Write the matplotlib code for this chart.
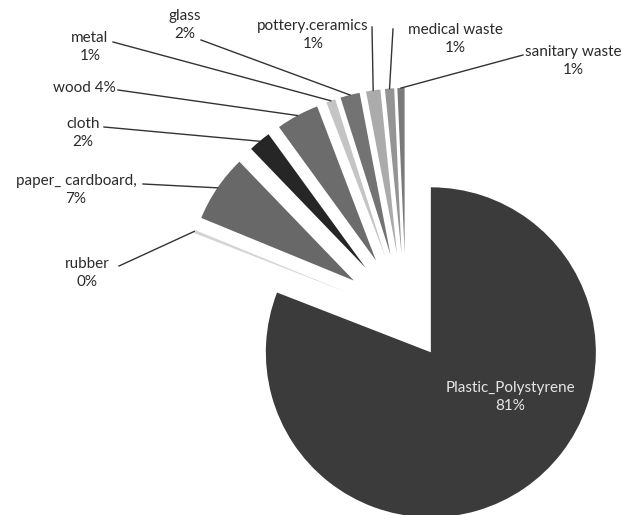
import numpy as np
import matplotlib
matplotlib.use("Agg")
from matplotlib import pyplot as plt

# data, clockwise from 12 o'clock
categories = ['Plastic_Polystyrene', 'rubber', 'paper_ cardboard,', 'cloth', 'wood',
              'metal', 'glass', 'pottery.ceramics', 'medical waste', 'sanitary waste']
shares = [80.9, 0.3, 6.6, 2.2, 4.2, 0.9, 1.9, 1.4, 0.9, 0.7]
pct_labels = ['81%', '0%', '7%', '2%', '4%', '1%', '2%', '1%', '1%', '1%']

colors = ['#3b3b3b', '#d4d4d4', '#686868', '#262626', '#6c6c6c',
          '#c4c4c4', '#737373', '#ababab', '#949494', '#7a7a7a']

W, H = 621, 515
R = 165
CX, CY = 406, H - 316
explode = [44] + [63] * 9

plt.rcParams['font.family'] = ['Lato', 'DejaVu Sans']

fig = plt.figure(figsize=(W / 100, H / 100), dpi=100)
ax = fig.add_axes([0, 0, 1, 1])
wedges, _ = ax.pie(shares, colors=colors, startangle=90, counterclock=False,
                   explode=explode, radius=R, center=(CX, CY),
                   wedgeprops=dict(linewidth=0))
ax.set_xlim(0, W)
ax.set_ylim(0, H)
ax.set_aspect('equal')
ax.axis('off')

# label centre (image px), text, leader start (image px)
label_pos = {
    'rubber': ((87, 273), 'rubber\n{}', (119, 266)),
    'paper_ cardboard,': ((76, 190), 'paper_ cardboard,\n{}', (143, 184)),
    'cloth': ((83, 133), 'cloth\n{}', (104, 127)),
    'wood': ((84, 88), 'wood {}', (118, 90)),
    'metal': ((90, 47), 'metal\n{}', (113, 42)),
    'glass': ((185, 25), 'glass\n{}', (201, 40)),
    'pottery.ceramics': ((313, 35), 'pottery.ceramics\n{}', (372, 27)),
    'medical waste': ((455, 39), 'medical waste\n{}', (393, 29)),
    'sanitary waste': ((573, 61), 'sanitary waste\n{}', (523, 55)),
}

for name, pct, w in zip(categories, pct_labels, wedges):
    if name == 'Plastic_Polystyrene':
        ax.text(510, H - 397, name + '\n' + pct, color='#e6e6e6',
                fontsize=11, ha='center', va='center', linespacing=1.45)
        continue
    (tx, ty), txt, (lx, ly) = label_pos[name]
    ax.text(tx, H - ty, txt.format(pct), fontsize=11, color='#2a2a2a',
            ha='center', va='center', linespacing=1.45)
    mid = np.deg2rad(0.5 * (w.theta1 + w.theta2))
    ex = w.center[0] + w.r * np.cos(mid)
    ey = w.center[1] + w.r * np.sin(mid)
    if name in ('pottery.ceramics', 'medical waste'):
        ax.plot([lx, lx, ex], [H - ly, H - ly, ey], color='#333333', lw=1)
    else:
        ax.plot([lx, ex], [H - ly, ey], color='#333333', lw=1)

fig.savefig('out.png', dpi=100)
